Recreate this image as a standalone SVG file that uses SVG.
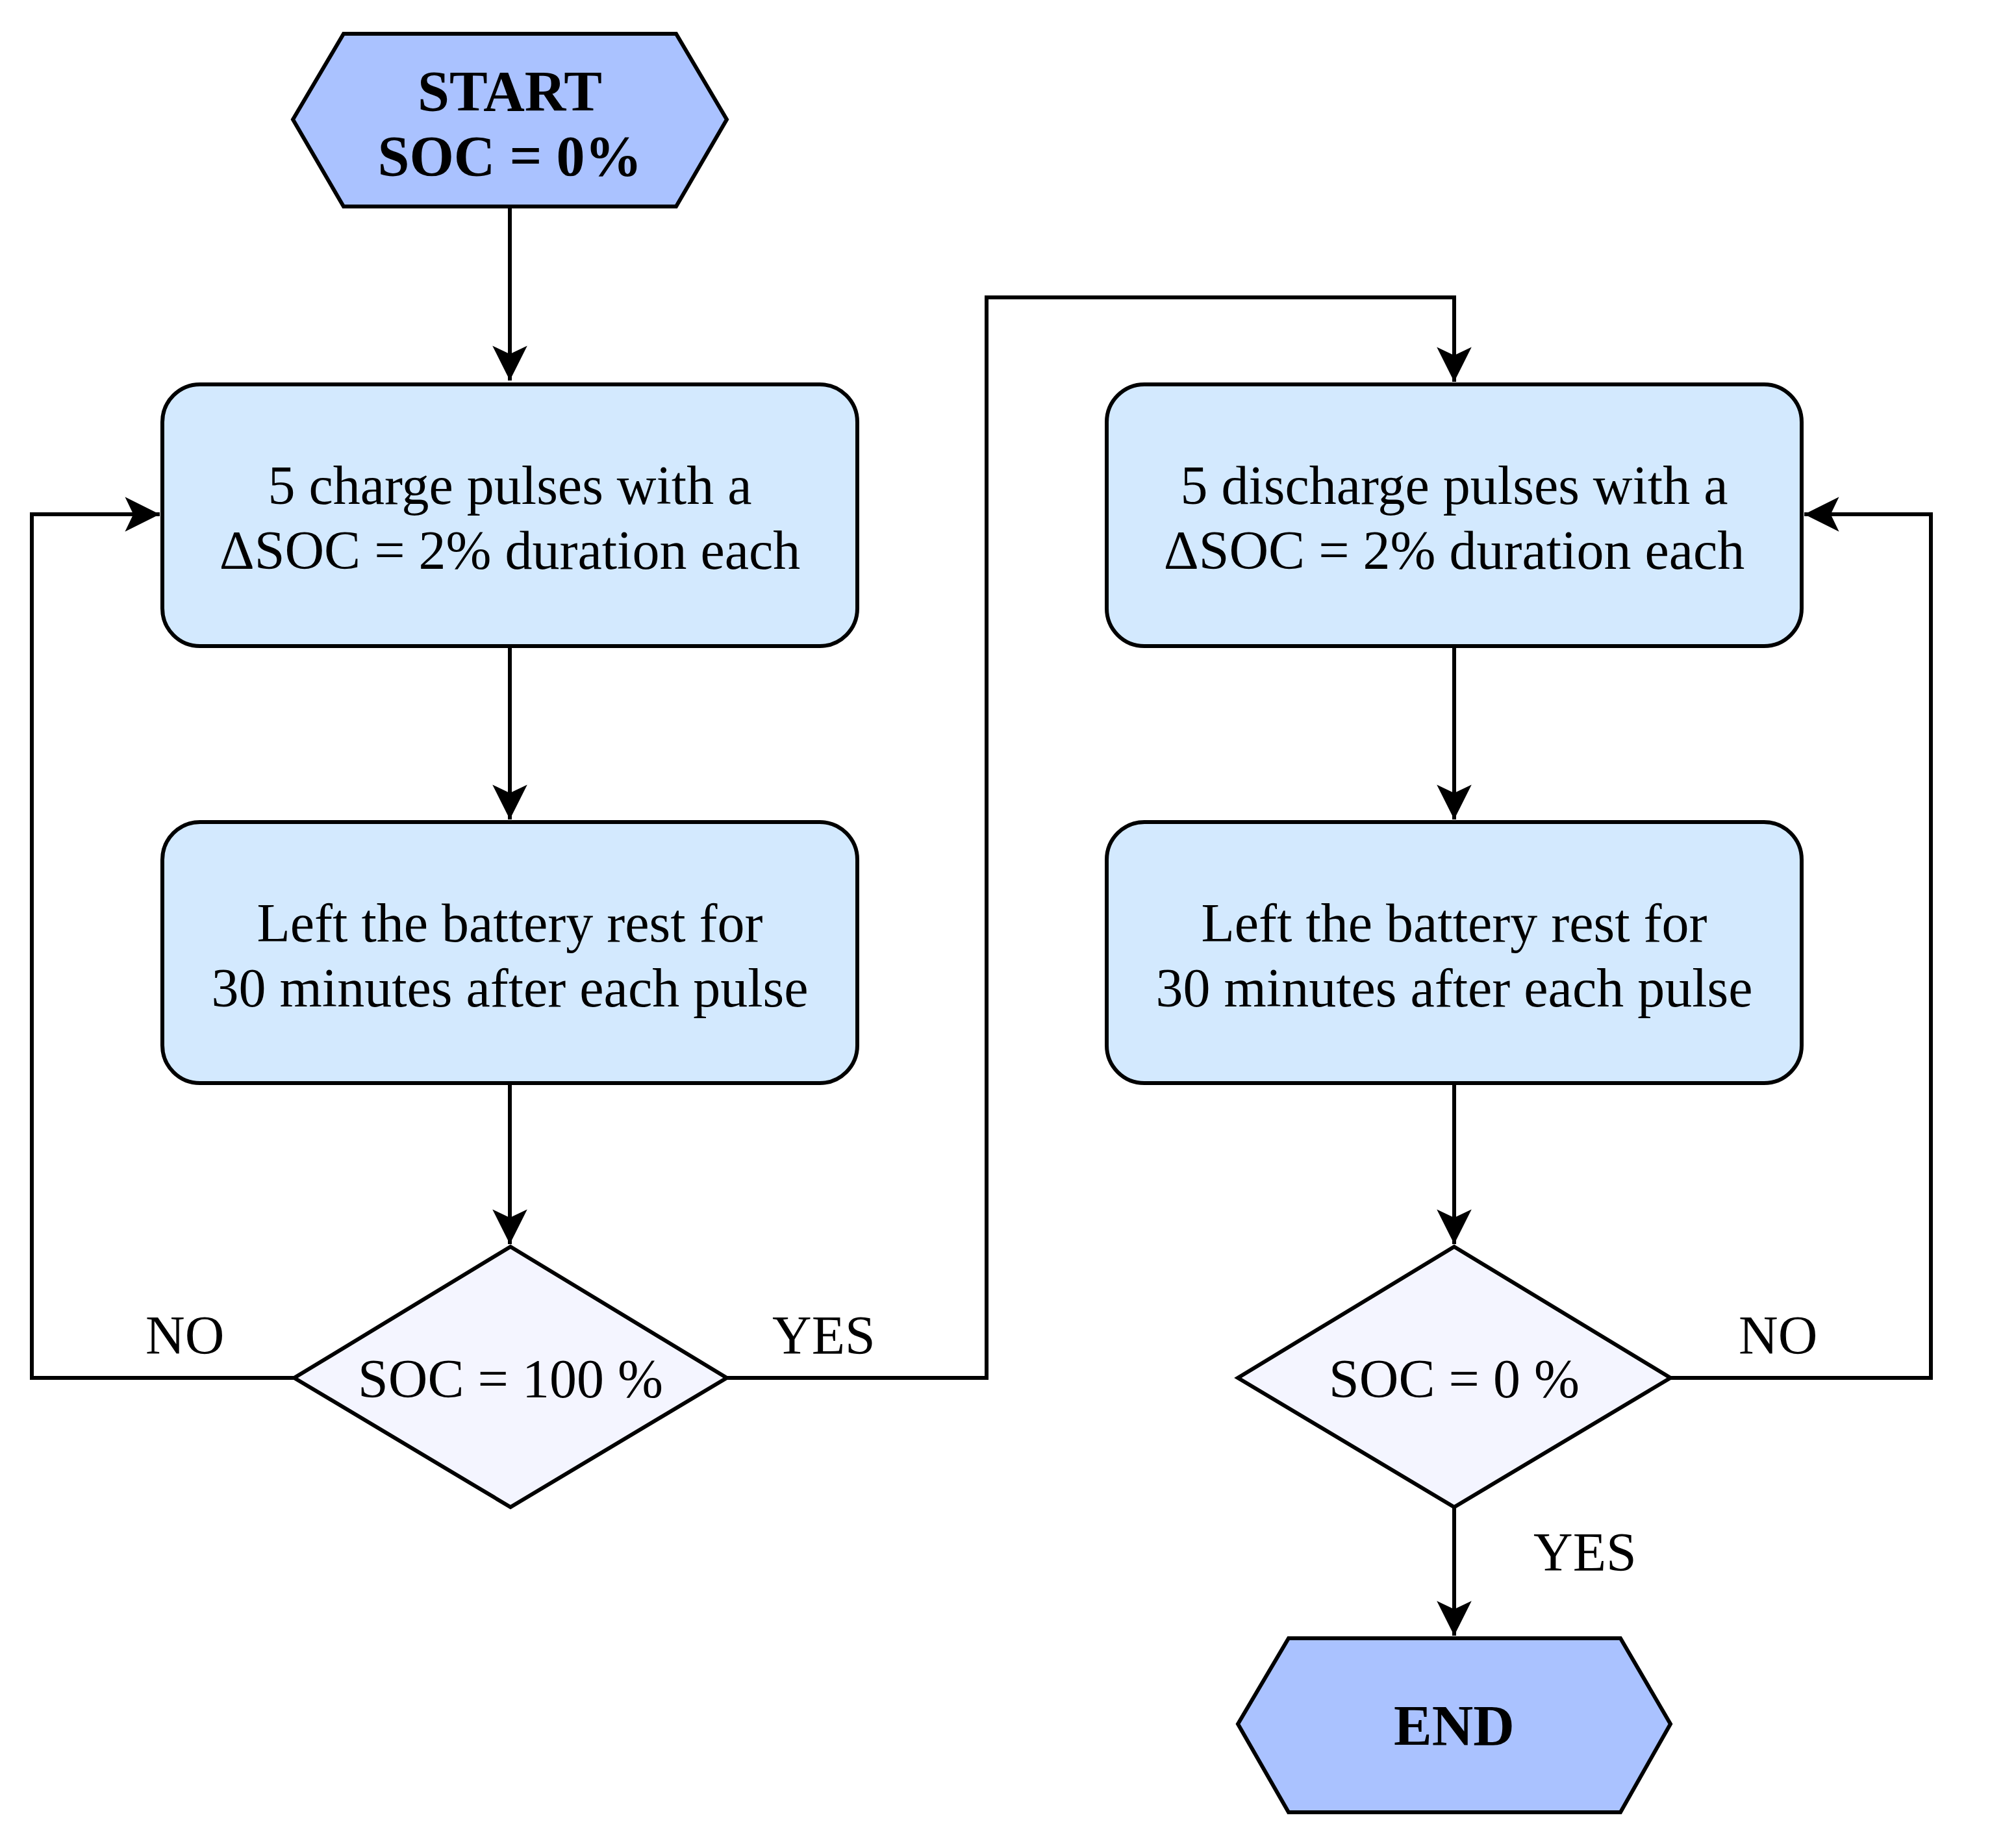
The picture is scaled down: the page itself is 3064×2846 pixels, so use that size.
<svg xmlns="http://www.w3.org/2000/svg" width="3064" height="2846" viewBox="0 0 3064 2846">
<style>
.hex{fill:#AAC2FF;stroke:#000;stroke-width:6}
.box{fill:#D3E9FE;stroke:#000;stroke-width:6}
.dia{fill:#F4F5FF;stroke:#000;stroke-width:6}
.t{font-family:"Liberation Serif",serif;font-size:84px;text-anchor:middle;fill:#000}
.b{font-weight:bold;font-size:88px}
.lab{font-family:"Liberation Serif",serif;font-size:84px;fill:#000}
.c{fill:none;stroke:#000;stroke-width:6}
</style>
<defs>
<marker id="ah" markerUnits="userSpaceOnUse" markerWidth="60" markerHeight="60" viewBox="-52 -28 56 56" refX="0" refY="0" orient="auto">
<path d="M0,0 L-50,-25 L-38,0 L-50,25 Z" fill="#000"/>
</marker>
</defs>
<rect width="3064" height="2846" fill="#fff"/>
<g id="connectors">
<path class="c" d="M785,318 V586" marker-end="url(#ah)"/>
<path class="c" d="M785,995 V1262" marker-end="url(#ah)"/>
<path class="c" d="M785,1668 V1916" marker-end="url(#ah)"/>
<path class="c" d="M453,2122 H49 V792 H246" marker-end="url(#ah)"/>
<path class="c" d="M1119,2122 H1519 V458 H2239 V588" marker-end="url(#ah)"/>
<path class="c" d="M2239,995 V1262" marker-end="url(#ah)"/>
<path class="c" d="M2239,1668 V1916" marker-end="url(#ah)"/>
<path class="c" d="M2572,2122 H2973 V792 H2778" marker-end="url(#ah)"/>
<path class="c" d="M2239,2321 V2519" marker-end="url(#ah)"/>
<text class="lab" x="224" y="2085">NO</text>
<text class="lab" x="1189" y="2085">YES</text>
<text class="lab" x="2677" y="2085">NO</text>
<text class="lab" x="2361" y="2419">YES</text>
</g>
<g id="start">
<polygon class="hex" points="529,52 1041,52 1119,184 1041,318 529,318 451,184"/>
<text class="t b" x="785" y="170">START</text>
<text class="t b" x="785" y="270">SOC = 0%</text>
</g>
<g id="charge">
<rect class="box" x="250" y="592" width="1070" height="403" rx="58"/>
<text class="t" x="785" y="776">5 charge pulses with a</text>
<text class="t" x="785" y="876">ΔSOC = 2% duration each</text>
</g>
<g id="rest1">
<rect class="box" x="250" y="1266" width="1070" height="402" rx="58"/>
<text class="t" x="785" y="1450">Left the battery rest for</text>
<text class="t" x="785" y="1550">30 minutes after each pulse</text>
</g>
<g id="check100">
<polygon class="dia" points="786,1920 1119,2122 786,2321 453,2122"/>
<text class="t" x="786" y="2152">SOC = 100 %</text>
</g>
<g id="discharge">
<rect class="box" x="1704" y="592" width="1070" height="403" rx="58"/>
<text class="t" x="2239" y="776">5 discharge pulses with a</text>
<text class="t" x="2239" y="876">ΔSOC = 2% duration each</text>
</g>
<g id="rest2">
<rect class="box" x="1704" y="1266" width="1070" height="402" rx="58"/>
<text class="t" x="2239" y="1450">Left the battery rest for</text>
<text class="t" x="2239" y="1550">30 minutes after each pulse</text>
</g>
<g id="check0">
<polygon class="dia" points="2239,1920 2572,2122 2239,2321 1906,2122"/>
<text class="t" x="2239" y="2152">SOC = 0 %</text>
</g>
<g id="end">
<polygon class="hex" points="1984,2523 2495,2523 2572,2655 2495,2791 1984,2791 1906,2655"/>
<text class="t b" x="2239" y="2687">END</text>
</g>
</svg>
